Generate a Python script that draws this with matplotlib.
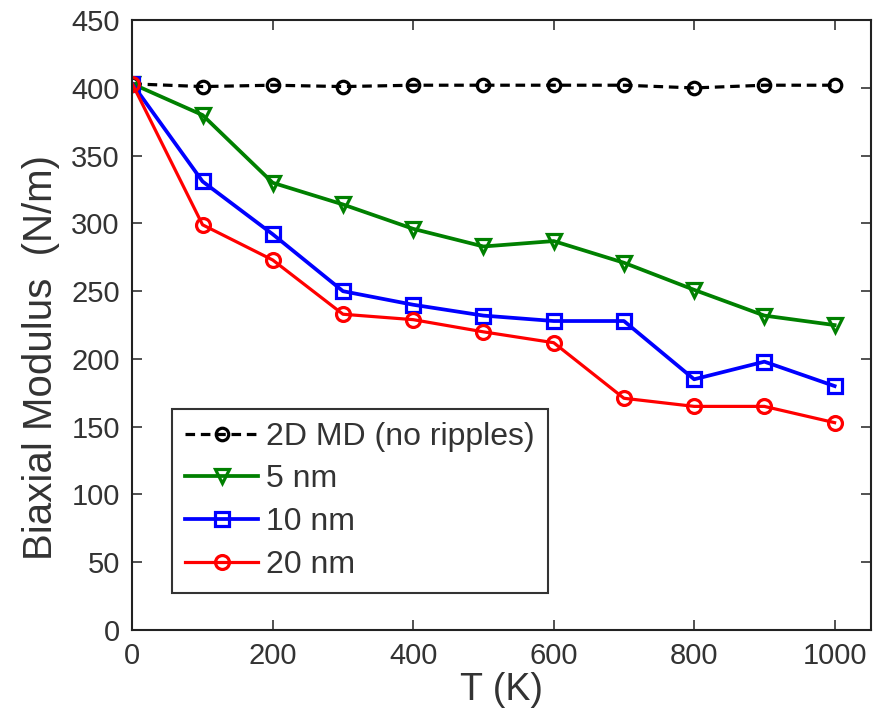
import matplotlib
matplotlib.use("Agg")
import matplotlib.pyplot as plt

T = [0, 100, 200, 300, 400, 500, 600, 700, 800, 900, 1000]
md2d = [403, 401, 402, 401, 402, 402, 402, 402, 400, 402, 402]
nm5 = [403, 380, 330, 314, 296, 283, 287, 271, 251, 232, 225]
nm10 = [403, 331, 292, 250, 240, 232, 228, 228, 185, 198, 180]
nm20 = [403, 299, 273, 233, 229, 220, 212, 171, 165, 165, 153]
labels = ["2D MD (no ripples)", "5 nm", "10 nm", "20 nm"]

plt.rcParams['font.family'] = ['Liberation Sans', 'DejaVu Sans']
fig = plt.figure(figsize=(8.88, 7.2), dpi=100)
ax = fig.add_axes([0.149, 0.125, 0.832, 0.847])

ax.plot(T, md2d, '--', color='black', lw=2.3, marker='o', ms=9, mfc='none', mew=2.3, label=labels[0], dashes=(3, 1.8))
ax.plot(T, nm5, '-', color=(0, 0.5, 0), lw=2.7, marker='v', ms=10, mfc='none', mew=2.3, label=labels[1])
ax.plot(T, nm10, '-', color='blue', lw=2.7, marker='s', ms=10, mfc='none', mew=2.3, label=labels[2])
ax.plot(T, nm20, '-', color='red', lw=2.3, marker='o', ms=10, mfc='none', mew=2.3, label=labels[3])

ax.set_xlim(0, 1052)
ax.set_ylim(0, 450)
ax.set_xticks(range(0, 1001, 200))
ax.set_yticks(range(0, 451, 50))
ax.tick_params(direction='in', top=True, right=True, labelsize=21, length=7, width=1.2,
               colors='#333333', labelcolor='#333333')
ax.tick_params(axis='x', pad=9)
ax.tick_params(axis='y', pad=9)
for s in ax.spines.values():
    s.set_linewidth(1.5)
    s.set_color('#222222')
ax.set_xlabel('T (K)', fontsize=27, color='#333333', labelpad=1)
ax.set_ylabel('Biaxial Modulus  (N/m)', fontsize=29, color='#333333', labelpad=2)
ax.yaxis.set_label_coords(-0.098, 0.447)

leg = ax.legend(loc='lower left', bbox_to_anchor=(0.054, 0.061), borderaxespad=0, fontsize=23, frameon=True,
                fancybox=False, edgecolor='black', borderpad=0.4, handlelength=2.3,
                labelspacing=0.4, handletextpad=0.25)
leg.get_frame().set_linewidth(1.5)
for t in leg.get_texts():
    t.set_color('#333333')

fig.savefig('out.png', dpi=100)
